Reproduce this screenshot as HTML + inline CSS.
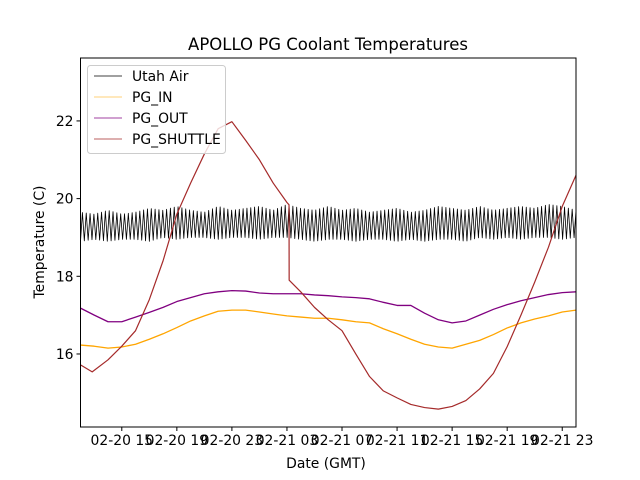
<!DOCTYPE html>
<html><head><meta charset="utf-8"><style>
body{margin:0;background:#fff;}
svg{display:block;font-family:"DejaVu Sans","Liberation Sans",sans-serif;}
</style></head><body>
<svg id="chart" width="640" height="480" viewBox="0 0 640 480">
<rect width="640" height="480" fill="#fff"/>
<text x="328" y="50" text-anchor="middle" font-size="16.5">APOLLO PG Coolant Temperatures</text>
<g id="plot"></g>
<g id="axes"></g>
<text x="326" y="468" text-anchor="middle" font-size="13.9">Date (GMT)</text>
<text transform="translate(44,242) rotate(-90)" text-anchor="middle" font-size="13.9">Temperature (C)</text>
<g>
<rect x="87.5" y="65.5" width="138" height="88" rx="3" fill="#fff" fill-opacity="0.8" stroke="#ccc"/>
<g><line x1="94" x2="122" y1="76" y2="76" stroke="#000" stroke-width="0.8"/><text x="132" y="81" font-size="13.9">Utah Air</text></g>
<g><line x1="94" x2="122" y1="97" y2="97" stroke="#ffa500" stroke-width="0.8" opacity="0.7"/><text x="132" y="102" font-size="13.9">PG_IN</text></g>
<g><line x1="94" x2="122" y1="118" y2="118" stroke="#800080" stroke-width="0.8"/><text x="132" y="123" font-size="13.9">PG_OUT</text></g>
<g><line x1="94" x2="122" y1="139" y2="139" stroke="#a52a2a" stroke-width="0.8"/><text x="132" y="144" font-size="13.9">PG_SHUTTLE</text></g>
</g>
</svg>
<script>
// hours since 02-20 00:00
const hours = [12,13,14,15,16,17,18,19,20,21,22,23,24,25,26,27,28,29,30,31,32,33,34,35,36,37,38,39,40,41,42,43,44,45,46,47,48];
const pgIn = [16.23,16.2,16.15,16.18,16.25,16.38,16.52,16.68,16.85,16.98,17.1,17.13,17.13,17.08,17.03,16.98,16.95,16.92,16.92,16.88,16.83,16.8,16.65,16.52,16.38,16.25,16.18,16.15,16.25,16.35,16.5,16.67,16.8,16.9,16.98,17.08,17.13];
const pgOut = [17.18,17.0,16.83,16.83,16.95,17.07,17.2,17.35,17.45,17.55,17.6,17.63,17.62,17.57,17.55,17.55,17.55,17.52,17.5,17.47,17.45,17.42,17.33,17.25,17.25,17.05,16.88,16.8,16.85,17.0,17.15,17.27,17.37,17.45,17.53,17.58,17.6];
const utahHigh = [19.65,19.6,19.7,19.6,19.65,19.75,19.7,19.8,19.7,19.65,19.8,19.7,19.75,19.8,19.7,19.85,19.75,19.7,19.8,19.7,19.75,19.65,19.7,19.75,19.65,19.7,19.8,19.75,19.7,19.8,19.7,19.75,19.8,19.75,19.85,19.8,19.7];
const utahLow = [18.9,18.95,18.9,18.95,18.95,18.9,19.0,18.95,19.0,19.0,18.95,19.0,19.0,18.95,19.0,19.0,18.95,18.9,18.95,18.95,18.9,18.95,18.95,18.9,18.95,18.9,18.95,18.95,18.9,19.0,18.95,19.0,18.95,19.0,19.0,18.95,19.0];
const shuttleHours = [12,12.85,14,15,16,17,18,19,20,21,22,23,24,25,26,27,27.15,27.16,28,29,30,31,32,33,34,35,36,37,38,39,40,41,42,43,44,45,46,47,48];
const shuttle = [15.72,15.54,15.85,16.2,16.6,17.4,18.4,19.6,20.4,21.15,21.8,21.98,21.5,21.0,20.4,19.9,19.84,17.9,17.6,17.2,16.88,16.6,16.0,15.42,15.05,14.87,14.7,14.62,14.58,14.65,14.8,15.1,15.5,16.19,17.0,17.85,18.75,19.8,20.6];
const xTicks = [15,19,23,27,31,35,39,43,47];
const xTickLabels = ["02-20 15","02-20 19","02-20 23","02-21 03","02-21 07","02-21 11","02-21 15","02-21 19","02-21 23"];
const yTicks = [16,18,20,22];

const X0=80.5,X1=576,Y0=58,Y1=427, H0=12,H1=48, V0=14.12,V1=23.62;
const NS="http://www.w3.org/2000/svg";
function xs(h){return X0+(h-H0)/(H1-H0)*(X1-X0);}
function ys(v){return Y1-(v-V0)/(V1-V0)*(Y1-Y0);}
function interp(xa,ya,h){for(let i=0;i<xa.length-1;i++){if(h<=xa[i+1]){const t=(h-xa[i])/(xa[i+1]-xa[i]);return ya[i]+t*(ya[i+1]-ya[i]);}}return ya[ya.length-1];}
const plot=document.getElementById('plot'), axes=document.getElementById('axes');
function path(d,color,name,w){const p=document.createElementNS(NS,'path');p.setAttribute('d',d);p.setAttribute('fill','none');p.setAttribute('stroke',color);p.setAttribute('stroke-width',w);p.setAttribute('stroke-linejoin','round');


plot.appendChild(p);}
function series(xa,ya){return xa.map((h,i)=>(i?'L':'M')+xs(h).toFixed(2)+','+ys(ya[i]).toFixed(2)).join('');}
// Utah air: zigzag between low/high envelopes
let d='';const cyc=3.6;const nSteps=Math.round((H1-H0)*cyc*2);
for(let k=0;k<=nSteps;k++){const h=H0+k*(H1-H0)/nSteps;const v=k%2?interp(hours,utahHigh,h):interp(hours,utahLow,h);d+=(k?'L':'M')+xs(h).toFixed(2)+','+ys(v).toFixed(2);}
path(d,'#000','series-utah-air','0.8');
path(series(hours,pgIn),'#ffa500','series-pg-in','1.3');
path(series(hours,pgOut),'#800080','series-pg-out','1.3');
path(series(shuttleHours,shuttle),'#a52a2a','series-pg-shuttle','1.2');
// frame
const fr=document.createElementNS(NS,'rect');fr.setAttribute('x',X0);fr.setAttribute('y',Y0);fr.setAttribute('width',X1-X0);fr.setAttribute('height',Y1-Y0);fr.setAttribute('fill','none');fr.setAttribute('stroke','#000');fr.setAttribute('stroke-width','1');


axes.appendChild(fr);
xTicks.forEach((h,i)=>{const x=xs(h);
const l=document.createElementNS(NS,'line');l.setAttribute('x1',x);l.setAttribute('x2',x);l.setAttribute('y1',Y1);l.setAttribute('y2',Y1+4);l.setAttribute('stroke','#000');


axes.appendChild(l);
const t=document.createElementNS(NS,'text');t.setAttribute('x',x);t.setAttribute('y',Y1+18);t.setAttribute('text-anchor','middle');t.setAttribute('font-size','13.9');t.textContent=xTickLabels[i];


axes.appendChild(t);});
yTicks.forEach(v=>{const y=ys(v);
const l=document.createElementNS(NS,'line');l.setAttribute('x1',X0-4);l.setAttribute('x2',X0);l.setAttribute('y1',y);l.setAttribute('y2',y);l.setAttribute('stroke','#000');


axes.appendChild(l);
const t=document.createElementNS(NS,'text');t.setAttribute('x',X0-7);t.setAttribute('y',y+5);t.setAttribute('text-anchor','end');t.setAttribute('font-size','13.9');t.textContent=v;


axes.appendChild(t);});
</script>
</body></html>
